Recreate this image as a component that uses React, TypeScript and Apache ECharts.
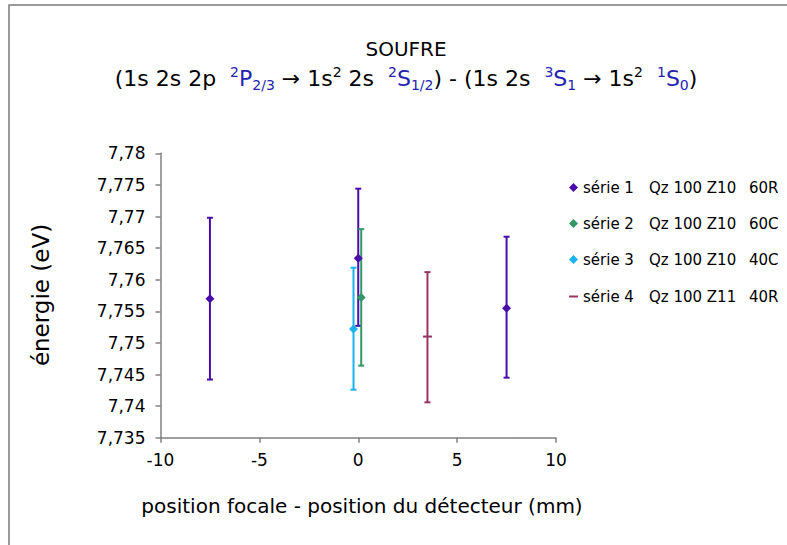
import React, { useEffect, useRef } from "react";
import * as echarts from "echarts";

// ---- data ----
const seriesNames = ["série 1", "série 2", "série 3", "série 4"];
const seriesDescs = ["Qz 100 Z10", "Qz 100 Z10", "Qz 100 Z10", "Qz 100 Z11"];
const seriesCodes = ["60R", "60C", "40C", "40R"];
const seriesColors = ["#4A0DAB", "#339966", "#1AB2EE", "#993366"];

// x (mm), energy (eV), error-bar low, error-bar high
const s1X = [-7.5, 0, 7.5];
const s1Y = [7.757, 7.7634, 7.7555];
const s1Lo = [7.7442, 7.7527, 7.7445];
const s1Hi = [7.7698, 7.7744, 7.7668];

const s2X = [0.15];
const s2Y = [7.7572];
const s2Lo = [7.7464];
const s2Hi = [7.768];

const s3X = [-0.24];
const s3Y = [7.7522];
const s3Lo = [7.7426];
const s3Hi = [7.7619];

const s4X = [3.5];
const s4Y = [7.751];
const s4Lo = [7.7406];
const s4Hi = [7.7612];

const xTicks = [-10, -5, 0, 5, 10];
const yTicks = [7.735, 7.74, 7.745, 7.75, 7.755, 7.76, 7.765, 7.77, 7.775, 7.78];

const titleLine1 = "SOUFRE";
const xTitle = "position focale - position du détecteur (mm)";
const yTitle = "énergie (eV)";

const FONT = "DejaVu Sans";

const allX = [s1X, s2X, s3X, s4X];
const allY = [s1Y, s2Y, s3Y, s4Y];
const allLo = [s1Lo, s2Lo, s3Lo, s4Lo];
const allHi = [s1Hi, s2Hi, s3Hi, s4Hi];

function fullName(i: number) {
  return seriesNames[i] + " " + seriesDescs[i] + " " + seriesCodes[i];
}

export default function App() {
  const ref = useRef<HTMLDivElement>(null);
  useEffect(() => {
    if (!ref.current) return;
    const chart = echarts.init(ref.current, null, { renderer: "svg" });

    const series: any[] = [];
    for (let i = 0; i < 4; i++) {
      const color = seriesColors[i];
      series.push({
        type: "custom",
        name: fullName(i) + "_err",
        z: 2,
        renderItem: (params: any, api: any) => {
          const x = api.value(0);
          const pLo = api.coord([x, api.value(1)]);
          const pHi = api.coord([x, api.value(2)]);
          const hw = 3;
          const st = { stroke: color, lineWidth: 2 };
          return {
            type: "group",
            children: [
              { type: "line", shape: { x1: pLo[0], y1: pLo[1], x2: pHi[0], y2: pHi[1] }, style: st },
              { type: "line", shape: { x1: pHi[0] - hw, y1: pHi[1], x2: pHi[0] + hw, y2: pHi[1] }, style: st },
              { type: "line", shape: { x1: pLo[0] - hw, y1: pLo[1], x2: pLo[0] + hw, y2: pLo[1] }, style: st },
            ],
          };
        },
        encode: { x: 0, y: [1, 2] },
        data: allX[i].map((x, k) => [x, allLo[i][k], allHi[i][k]]),
      });
      series.push({
        type: "scatter",
        name: fullName(i),
        z: 3,
        symbol: i === 3 ? "rect" : "diamond",
        symbolSize: i === 3 ? [9, 2] : 9,
        itemStyle: { color, opacity: 1 },
        data: allX[i].map((x, k) => [x, allY[i][k]]),
      });
    }

    const legendRich = {
      a: { width: 66, fontSize: 15, fontFamily: FONT, color: "#000", lineHeight: 16 },
      b: { width: 100, fontSize: 15, fontFamily: FONT, color: "#000", lineHeight: 16 },
      c: { fontSize: 15, fontFamily: FONT, color: "#000", lineHeight: 16 },
    };
    const legendFormatter = (name: string) => {
      const i = [0, 1, 2, 3].find((k) => fullName(k) === name) ?? 0;
      return `{a|${seriesNames[i]}}{b|${seriesDescs[i]}}{c|${seriesCodes[i]}}`;
    };

    const line2 =
      "{n|(1s 2s 2p  }{bs|2}{b|P}{bb|2/3}{n| → 1s}{s|2}{n| 2s  }{bs|2}{b|S}{bb|1/2}" +
      "{n|) - (1s 2s  }{bs|3}{b|S}{bb|1}{n| → 1s}{s|2}{n|  }{bs|1}{b|S}{bb|0}{n|)}";
    const blue = "#2323B0";

    chart.setOption({
      animation: false,
      grid: { left: 160.5, right: 231, top: 153.3, bottom: 107.3, containLabel: false },
      xAxis: {
        type: "value",
        min: xTicks[0],
        max: xTicks[xTicks.length - 1],
        interval: 5,
        splitLine: { show: false },
        axisLine: { onZero: false, lineStyle: { color: "#808080", width: 1.5 } },
        axisTick: { show: true, length: 5, lineStyle: { color: "#808080", width: 1.5 } },
        axisLabel: { color: "#000", fontSize: 17, fontFamily: FONT, margin: 14 },
      },
      yAxis: {
        type: "value",
        min: yTicks[0],
        max: yTicks[yTicks.length - 1],
        interval: 0.005,
        splitLine: { show: false },
        axisLine: { show: true, onZero: false, lineStyle: { color: "#808080", width: 1.5 } },
        axisTick: { show: true, length: 5, lineStyle: { color: "#808080", width: 1.5 } },
        axisLabel: {
          color: "#000",
          fontSize: 17,
          fontFamily: FONT,
          margin: 15,
          formatter: (v: number) => String(+v.toFixed(3)).replace(".", ","),
        },
      },
      legend: [
        {
          orient: "vertical",
          left: 564,
          top: 175,
          itemWidth: 9,
          itemHeight: 9,
          itemGap: 21,
          icon: "diamond",
          data: [0, 1, 2].map((i) => fullName(i)),
          formatter: legendFormatter,
          textStyle: { rich: legendRich },
          selectedMode: false,
        },
        {
          orient: "vertical",
          left: 564,
          top: 284,
          itemWidth: 9,
          itemHeight: 2,
          icon: "rect",
          data: [fullName(3)],
          formatter: legendFormatter,
          textStyle: { rich: legendRich },
          selectedMode: false,
        },
      ],
      graphic: [
        {
          type: "polyline",
          shape: { points: [[9, 545], [9, 5], [787, 5]] },
          style: { stroke: "#7a7a7a", lineWidth: 1.5, fill: "none" },
        },
        {
          type: "text",
          x: 406,
          y: 49,
          style: {
            text: titleLine1,
            fontSize: 20,
            fontFamily: FONT,
            fill: "#000",
            align: "center",
            verticalAlign: "middle",
          },
        },
        {
          type: "text",
          x: 406,
          y: 78,
          style: {
            text: line2,
            align: "center",
            verticalAlign: "middle",
            rich: {
              n: { fontSize: 22, fontFamily: FONT, fill: "#000", lineHeight: 27 },
              b: { fontSize: 22, fontFamily: FONT, fill: blue, lineHeight: 27 },
              s: { fontSize: 14, fontFamily: FONT, fill: "#000", lineHeight: 15, verticalAlign: "top" },
              bs: { fontSize: 14, fontFamily: FONT, fill: blue, lineHeight: 15, verticalAlign: "top" },
              bb: { fontSize: 14, fontFamily: FONT, fill: blue, lineHeight: 15, verticalAlign: "bottom" },
            },
          },
        },
        {
          type: "text",
          x: 41,
          y: 295,
          rotation: Math.PI / 2,
          style: {
            text: yTitle,
            fontSize: 23,
            fontFamily: FONT,
            fill: "#000",
            align: "center",
            verticalAlign: "middle",
          },
        },
        {
          type: "text",
          x: 362,
          y: 506,
          style: {
            text: xTitle,
            fontSize: 20,
            fontFamily: FONT,
            fill: "#000",
            align: "center",
            verticalAlign: "middle",
          },
        },
      ],
      series,
    });
    return () => chart.dispose();
  }, []);
  return (
    <div
      ref={ref}
      style={{ position: "fixed", left: 0, top: 0, width: 787, height: 545, background: "#fff" }}
    />
  );
}
